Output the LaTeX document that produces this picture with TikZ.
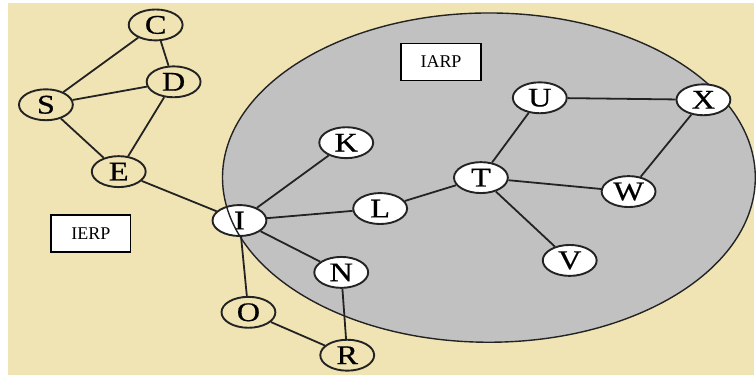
\documentclass[tikz,border=0pt]{standalone}
\usepackage{fontspec}
\setmainfont{Liberation Serif}
\newfontfamily\letterfont[FakeStretch=1.2,FakeBold=0.6]{Liberation Serif}
\usetikzlibrary{shapes.geometric}
\definecolor{sand}{RGB}{240,228,180}
\definecolor{zone}{RGB}{193,193,193}
\definecolor{ink}{RGB}{35,35,35}

\begin{document}
\begin{tikzpicture}[x=1pt,y=-1pt,line width=1.8pt,draw=ink]
    \tikzstyle{vertex}=[ellipse,draw=ink,line width=1.9pt,fill=white,minimum width=54pt,minimum height=31pt,inner sep=0pt,font=\letterfont\fontsize{27}{27}\selectfont]
    \tikzstyle{outside}=[vertex,fill=sand]
    \tikzstyle{zonetag}=[draw=black,fill=white,minimum width=80pt,minimum height=37pt,line width=1.3pt,font=\fontsize{18}{18}\selectfont]

    % paper and the zone
    \fill[white] (0,0) rectangle (756,376);
    \fill[sand] (8,3) rectangle (756,376);
    \draw[fill=zone,line width=1.4pt] (490,178) ellipse [x radius=267pt, y radius=165pt];

    \node[zonetag] (iarp) at (442,62) {IARP};
    \node[zonetag] (ierp) at (91,234) {IERP};

    % nodes outside the zone
    \foreach \name/\x/\y in {C/156/25, D/174/82, S/46/105, E/119/172, O/249/313, R/348/356}
        \node[outside] (V-\name) at (\x,\y) {\name};

    % nodes inside the zone
    \foreach \name/\x/\y in {I/240/221, K/347/143, L/381/209, T/482/178, U/541/98,
                             X/705/100, W/630/192, V/571/261, N/342/273}
        \node[vertex] (V-\name) at (\x,\y) {\name};

    % border of the zone shows through I
    \begin{scope}
        \clip (V-I) ellipse [x radius=26pt, y radius=15pt];
        \draw[line width=1.4pt] (490,178) ellipse [x radius=267pt, y radius=165pt];
    \end{scope}

    \foreach \from/\to in {C/S, C/D, S/D, S/E, D/E, E/I, I/K, I/L, I/N, I/O,
                           O/R, N/R, L/T, T/U, T/W, T/V, U/X, X/W}
        \draw (V-\from) -- (V-\to);
\end{tikzpicture}
\end{document}
